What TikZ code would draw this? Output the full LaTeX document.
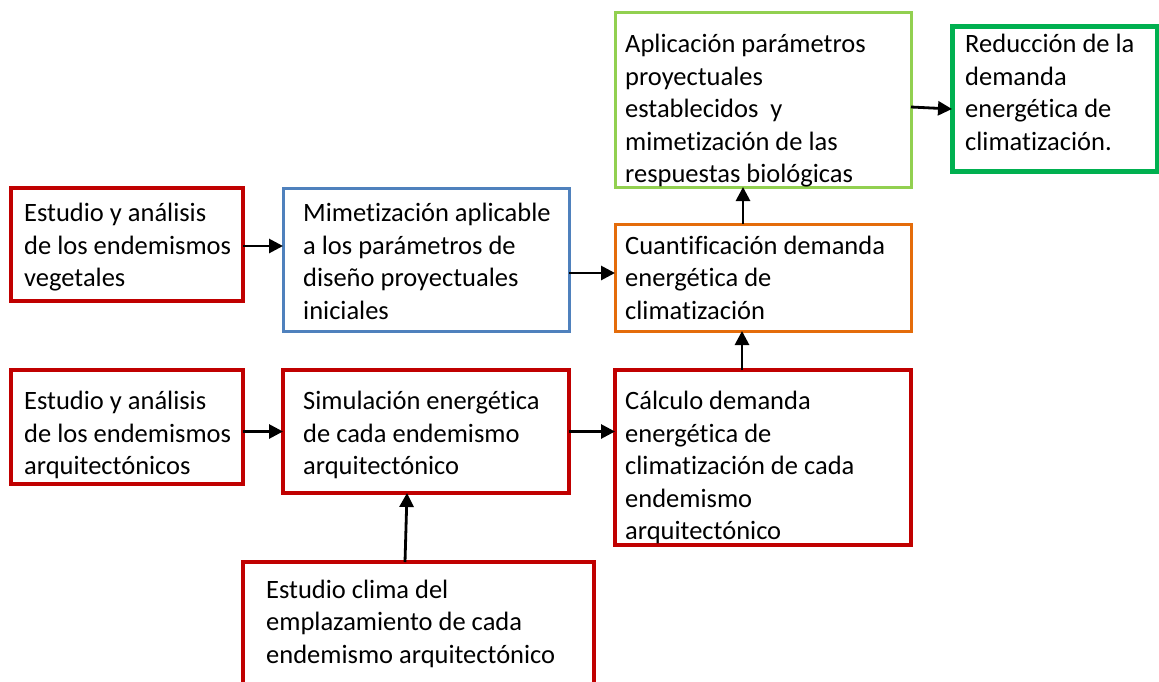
\documentclass[tikz,border=0pt]{standalone}
\usepackage{fontspec}
\setmainfont{Carlito}[Ligatures=NoCommon]
\usetikzlibrary{arrows.meta}
\definecolor{rojo}{HTML}{C00000}
\definecolor{azul}{HTML}{4F81BD}
\definecolor{naranja}{HTML}{E46C0A}
\definecolor{verdeclaro}{HTML}{92D050}
\definecolor{verde}{HTML}{00B050}
\begin{document}
\begin{tikzpicture}[x=1pt,y=-1pt,
    caja/.style={draw=#1, line width=3.5pt, anchor=north west, inner sep=0pt, outer sep=0pt},
    txt/.style={anchor=north west, inner sep=0pt, align=left,
      font=\fontsize{26.5}{32.5}\selectfont},
    flecha/.style={line width=2.8pt, -{Triangle[length=14pt,width=14pt]}}]
  \path[use as bounding box] (0,0) rectangle (1159,681);
  \clip (0,0) rectangle (1159,681);
  % cajas
  \node[caja=rojo, minimum width=232, minimum height=113] (veg) at (11,188) {};
  \node[caja=azul, line width=3pt, minimum width=286, minimum height=143] (mim) at (283,188) {};
  \node[caja=naranja, line width=3pt, minimum width=296, minimum height=107] (cuant) at (615,224) {};
  \node[caja=verdeclaro, line width=3pt, minimum width=296, minimum height=175] (apl) at (615,12) {};
  \node[caja=verde, line width=5pt, minimum width=205, minimum height=145] (red) at (952,26) {};
  \node[caja=rojo, minimum width=232, minimum height=114] (arq) at (11,370) {};
  \node[caja=rojo, minimum width=286, minimum height=123] (sim) at (283,370) {};
  \node[caja=rojo, minimum width=296, minimum height=175] (calc) at (615,370) {};
  \node[caja=rojo, minimum width=351, minimum height=150] (clima) at (243,562) {};
  % textos
  \node[txt] (vegt) at (24,199) {\strut Estudio y análisis\\de los endemismos\\vegetales};
  \node[txt] (mimt) at (303,199) {\strut Mimetización aplicable\\a los parámetros de\\diseño proyectuales\\iniciales};
  \node[txt] (cuantt) at (625,231.25) {\strut Cuantificación demanda\\energética de\\climatización};
  \node[txt] (aplt) at (625,30) {\strut Aplicación parámetros\\proyectuales\\establecidos\ \ y\\mimetización de las\\respuestas biológicas};
  \node[txt] (redt) at (965,30) {\strut Reducción de la\\demanda\\energética de\\climatización.};
  \node[txt] (arqt) at (24,386.75) {\strut Estudio y análisis\\de los endemismos\\arquitectónicos};
  \node[txt] (simt) at (303,386.75) {\strut Simulación energética\\de cada endemismo\\arquitectónico};
  \node[txt] (calct) at (625,386.75) {\strut Cálculo demanda\\energética de\\climatización de cada\\endemismo\\arquitectónico};
  \node[txt] (climat) at (266,575.25) {\strut Estudio clima del\\emplazamiento de cada\\endemismo arquitectónico};
  % flechas
  \draw[flecha] ([yshift=-1.5pt]veg.east) -- ([yshift=-1.5pt]veg.east -| mim.west);
  \draw[flecha] ([yshift=-13.5pt]mim.east) -- ([yshift=-13.5pt]mim.east -| cuant.west);
  \draw[flecha] (arq.east |- sim.west) -- (sim.west);
  \draw[flecha] (sim.east) -- (sim.east -| calc.west);
  \draw[flecha] ([xshift=-21pt]calc.north) -- ([xshift=-21pt]calc.north |- cuant.south);
  \draw[flecha] ([xshift=-20pt]cuant.north) -- ([xshift=-20pt]cuant.north |- apl.south);
  \draw[flecha] ([yshift=-7.5pt]apl.east) -- ([yshift=-10.5pt]red.west);
  \draw[flecha] ([xshift=-13.5pt]clima.north) -- ([xshift=-19pt]sim.south);
\end{tikzpicture}
\end{document}
